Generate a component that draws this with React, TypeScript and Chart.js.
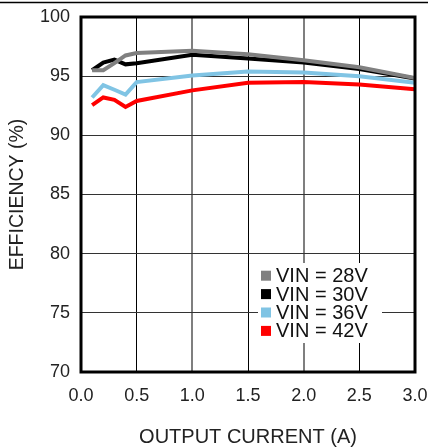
import React, { useEffect, useRef } from "react";
import { Chart, registerables } from "chart.js";

Chart.register(...registerables);

const currents = [0.1, 0.2, 0.3, 0.4, 0.5, 1.0, 1.5, 2.0, 2.5, 3.0];
const vin28 = [95.5, 95.5, 96.1, 96.75, 96.95, 97.15, 96.85, 96.35, 95.75, 94.85];
const vin30 = [95.5, 96.15, 96.4, 96.0, 96.1, 96.8, 96.5, 96.15, 95.6, 94.8];
const vin36 = [93.2, 94.25, 93.85, 93.45, 94.5, 95.05, 95.4, 95.3, 95.0, 94.45];
const vin42 = [92.55, 93.2, 93.0, 92.4, 92.9, 93.8, 94.45, 94.5, 94.3, 93.9];
const seriesLabels = ["VIN = 28V", "VIN = 30V", "VIN = 36V", "VIN = 42V"];
const seriesColors = ["#808080", "#000000", "#80c4e4", "#ff0000"];
const xTitle = "OUTPUT CURRENT (A)";
const yTitle = "EFFICIENCY (%)";

const FONT = "'Liberation Sans', Arial, sans-serif";

const framePlugin = {
  id: "frame",
  afterDatasetsDraw(chart: any) {
    const { ctx, chartArea } = chart;
    const lx = chartArea.left + 177;
    const ly = chartArea.top + 246;
    ctx.save();
    ctx.fillStyle = "#ffffff";
    ctx.fillRect(lx, ly, 124, 80);
    ctx.font = `20px ${FONT}`;
    ctx.textBaseline = "middle";
    ctx.textAlign = "left";
    chart.data.datasets.forEach((ds: any, i: number) => {
      const cy = ly + 12.7 + i * 18.4;
      ctx.fillStyle = ds.borderColor;
      ctx.fillRect(lx + 3, cy - 5, 10, 10);
      ctx.fillStyle = "#111111";
      ctx.fillText(ds.label, lx + 18, cy + 1);
    });
    ctx.restore();
  },
  afterDraw(chart: any) {
    const { ctx, chartArea, width } = chart;
    ctx.save();
    ctx.strokeStyle = "#000000";
    ctx.lineWidth = 3;
    ctx.strokeRect(
      chartArea.left,
      chartArea.top,
      chartArea.right - chartArea.left,
      chartArea.bottom - chartArea.top
    );
    ctx.lineWidth = 1.5;
    ctx.beginPath();
    ctx.moveTo(0, 2.5);
    ctx.lineTo(width, 2.5);
    ctx.stroke();
    ctx.restore();
  },
};

export default function App() {
  const ref = useRef<HTMLCanvasElement | null>(null);
  useEffect(() => {
    document.body.style.margin = "0";
    if (!ref.current) return;
    const series = [vin28, vin30, vin36, vin42];
    const chart = new Chart(ref.current, {
      type: "scatter",
      data: {
        datasets: series.map((vals, i) => ({
          label: seriesLabels[i],
          data: currents.map((x, j) => ({ x, y: vals[j] })),
          showLine: true,
          borderColor: seriesColors[i],
          backgroundColor: seriesColors[i],
          borderWidth: 4,
          pointRadius: 0,
          tension: 0,
        })),
      },
      options: {
        animation: false,
        responsive: true,
        maintainAspectRatio: false,
        layout: { padding: { top: 17, right: 13, left: 0, bottom: 0 } },
        plugins: { legend: { display: false }, tooltip: { enabled: false } },
        scales: {
          x: {
            type: "linear",
            min: 0,
            max: 3,
            afterFit(scale: any) {
              scale.height = 76;
              scale.paddingLeft = 0;
              scale.paddingRight = 0;
            },
            ticks: {
              stepSize: 0.5,
              padding: 13,
              color: "#222",
              font: { family: FONT, size: 18 },
              callback: (v: any) => Number(v).toFixed(1),
            },
            grid: {
              drawTicks: false,
              color: (c: any) =>
                c.tick && (c.tick.value === 1 || c.tick.value === 2) ? "#7f7f7f" : "#000000",
              lineWidth: (c: any) =>
                c.tick && (c.tick.value === 1 || c.tick.value === 2) ? 2 : 1,
            },
            border: { display: false },
            title: {
              display: true,
              text: xTitle,
              color: "#222",
              font: { family: FONT, size: 20, lineHeight: 1 },
              padding: { top: 0, bottom: 1 },
            },
          },
          y: {
            min: 70,
            max: 100,
            afterFit(scale: any) {
              scale.width = 81;
              scale.paddingTop = 0;
              scale.paddingBottom = 0;
            },
            ticks: {
              stepSize: 5,
              padding: 11,
              color: "#222",
              font: { family: FONT, size: 18 },
            },
            grid: { drawTicks: false, color: "#333333", lineWidth: 1 },
            border: { display: false },
            title: {
              display: true,
              text: yTitle,
              color: "#222",
              font: { family: FONT, size: 19.5, lineHeight: 1 },
              padding: { top: 8, bottom: 0 },
            },
          },
        },
      },
      plugins: [framePlugin],
    });
    return () => chart.destroy();
  }, []);
  return (
    <div style={{ width: 428, height: 448, position: "relative" }}>
      <canvas ref={ref} />
    </div>
  );
}
